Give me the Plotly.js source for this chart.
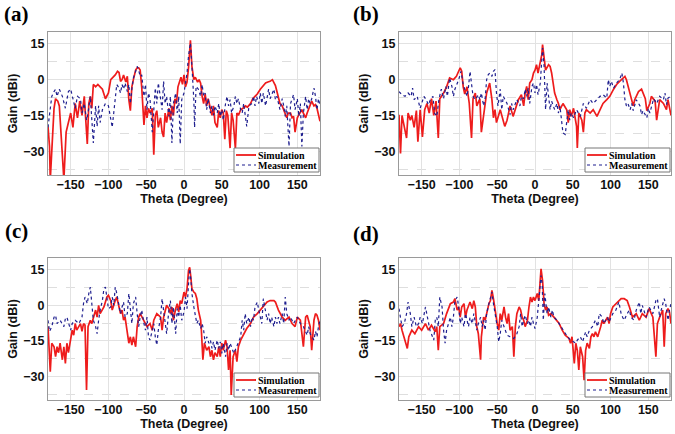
<!DOCTYPE html>
<html>
<head>
<meta charset="utf-8">
<script src="https://cdn.plot.ly/plotly-3.0.1.min.js"></script>
<style>html,body{margin:0;padding:0;background:#fff}#chart{width:675px;height:434px}</style>
</head>
<body>
<div id="chart"></div>
<script>
// ---------- data (theta in degrees, gain in dBi) ----------
const panelLabels = ['(a)', '(b)', '(c)', '(d)'];
const seriesNames = ['Simulation', 'Measurement'];
const xTickVals = [-150, -100, -50, 0, 50, 100, 150];
const yTickVals = [15, 0, -15, -30];
const xTitle = 'Theta (Degree)';
const yTitle = 'Gain (dBi)';

// (a)
const thetaSimA = [-180,-178,-177,-175,-172,-170,-167,-165,-162,-159,-156,-153,-150,-147,-144,-141,-138,-135,-132,-130,-128,-126,-124,-122,-120,-117,-114,-111,-108,-104,-100,-97,-94,-91,-88,-86,-84,-82,-80,-77,-75,-73,-71,-69,-67,-64,-62,-60,-58,-56,-53,-51,-49,-47,-45,-42,-40,-38,-36,-34,-31,-29,-27,-25,-23,-20,-18,-16,-14,-12,-10,-8,-6,-4,-2,0,2,4,6,8.5,10.5,13,15,18,20,22,24,26,28,30,32,35,37,39,41,44,46,48,50,52,54,56,58,61,63,65,68,70,72,75,78,81,84,88,91,94,97,101,104,108,111,114,117,119,121,123,127,130,132,134,136,138,141,143,145,147,150,152,156,158,161,163,165,167,169,172,174,176,178,180];
const gainSimA = [-19.6,-28,-42,-27,-12,-8,-9,-11,-25,-42,-22,-18,-14,-20,-10,-16,-9,-15,-7,-17,-27,-10,-7,-12,-2,-3,-2,-3,-4,-8,-5.6,0,1,2,3.5,3,-0.7,0,2,-1,1.4,-8.4,-13,-3,0,4,5,5,4,-3,-19,-11,-16,-12,-14,-12,-31.5,-15,-13,-20,-16,-22,-24,-14,-18,-12,-17,-11,-15,-8,-10,-3,-1,1,-2,2,-3,-1,5,16.5,5.6,0,1,-1,0,-1.5,-7,-10,-6,-11,-8,-12,-15,-11,-18,-20,-13,-16,-12.6,-14,-25,-13,-15,-28.7,-14,-17,-29,-14,-15,-12.6,-12,-11,-11.5,-10,-8,-7,-6,-4,-3,-1.4,-1,-0.7,0,-1.4,-2.5,-5,-10,-11,-13,-15,-16,-14,-14,-16,-15.4,-22,-16,-14.7,-12.6,-14,-16,-14,-12,-10,-9,-11,-10.5,-12,-14.7,-17.5];
const thetaMeasA = [-180,-178,-175,-172,-170,-168,-165,-161,-157,-155,-153,-150,-147,-144,-141,-137,-135,-132,-129,-127,-124,-122,-120,-117,-115,-113,-111,-108,-104,-100,-95,-93,-91,-89,-86,-84,-82,-80,-78,-75,-73,-71,-69,-67,-64,-62,-60,-58,-56,-53,-51,-49,-47,-45,-42,-40,-38,-36,-34,-31,-29,-27,-25,-23,-20,-18,-16,-14,-11,-9,-7,-5,-3,0,2,4,6,8.5,10.5,13,14,16,19,22,24,26,28,30,32,35,37,39,41,44,46,48,50,52,55,57,59,61,63,66,68,70,72,75,77,79,83,86,90,92,94,96,99,101,103,105,108,110,112,114,119,121,123,127,130,132,134,136,139,141,143,145,147,150,152,154,156,158,161,163,165,167,169,172,174,176,178,180];
const gainMeasA = [-20,-15,-7,-5,-4,-7,-4,-7,-12,-8.4,-5,-4,-8.4,-12,-7,-8,-14,-10,-17,-14,-7,-16,-26.6,-11,-19.6,-11,-18,-12.6,-10,-11,-20,-14,-7,-2,-3.5,-5.6,-2,-4,-1.4,-5,-2,-10,-4,0.7,3.5,5.6,4,1.4,2,-7,-2,-12.6,-5.6,-8,-22,-11,-3.5,-10,-1.4,-8,-12.6,-0.7,-10,-7,-15.4,-7,-26.6,-10,-5.6,-14,-7,-27,-8.4,-5.6,-1.4,2.8,10,15.4,5.6,-8.4,-20,-2.8,-4,-7,-2,-7,-5.6,-12.6,-8,-14,-11,-15,-11,-14,-10,-15.4,-12.6,-17,-10,-7,-11,-8.4,-14,-11,-7,-10,-8,-12.6,-14,-10,-19.6,-11,-10,-7,-11,-7,-10,-5.6,-10,-5.6,-11,-7,-4,-8,-4,-8.4,-7,-12.6,-8,-11,-15.4,-11,-28,-10,-8,-6.3,-12.6,-8,-15.4,-10,-28,-14,-7,-12.6,-8,-10,-8,-3.5,-7,-12.6,-8,-11];

// (b)
const thetaSimB = [-180,-178,-176,-173,-170,-168,-165,-163,-160,-157,-155,-152,-149,-146,-143,-140,-137,-134,-131,-128,-126,-121,-117,-113,-108,-104,-99,-97,-95,-93,-90,-87,-84,-82,-79,-77,-73,-71,-68,-66,-64,-62,-60,-57,-55,-53,-51,-46,-42,-40,-37,-33,-29,-26,-22,-18,-15,-13,-11,-9,-7,-4,-2,0,2,4,7,9,10,12,14,18,20,22,24,26,29,31,33,37,42,44,46,48,51,53,55,56,58,62,64,66,68,73,77,82,86,90,95,99,104,108,112,117,119,121,126,130,132,137,141,146,148,152,154,159,161,163,165,170,174,176,180];
const gainSimB = [-14.7,-31,-15,-20,-24.5,-14,-17,-15,-20,-13,-26,-12.6,-24,-12.6,-10,-14,-8,-15,-9,-24.5,-8,-5.6,-3,0.7,0,1.4,5,3.5,-3,-6,-3,-10,-24.5,-8,-5.6,-11,-8,-22,-14,-11,-5.6,-3.5,-1.4,-8.4,-16,-12.6,-18,-12.6,-17,-19.6,-17,-11,-15.4,-12,-8.4,-6.3,-11,-5.6,-2.8,-8.4,-1.4,0,2.8,4,6.3,2.8,7,10.5,14.7,9,4,6.3,5.6,2.8,-1.4,-5.6,-8.4,-10,-12.6,-10,-12.6,-18,-12.6,-15.4,-12,-17,-19.6,-28.7,-14,-17,-22,-14,-12.6,-14,-12.6,-15.4,-12.6,-10,-8.4,-7,-4,-2,-0.7,0.7,1.4,0,-5.6,-11,-8.4,-5,-4,-8,-13,-10,-7,-9,-17,-12.6,-8.4,-10,-12.6,-8.4,-15];
const thetaMeasB = [-180,-176,-172,-168,-164,-162,-160,-156,-152,-150,-147,-144,-141,-138,-135,-133,-130,-127,-124,-121,-118,-116,-113,-110,-108,-106,-103,-101,-98,-95,-90,-88,-86,-84,-82,-79,-75,-73,-71,-68,-66,-64,-62,-60,-57,-55,-53,-51,-49,-46,-44,-42,-37,-33,-31,-29,-24,-20,-18,-15,-13,-11,-9,-7,-4,-2,0,2,4,7,9,10,12,13,14,16,18,20,22,24,26,29,31,33,35,37,40,42,44,46,48,51,55,60,64,68,73,77,82,86,90,95,97,99,101,104,108,112,115,117,119,121,123,126,128,130,134,139,141,143,148,150,152,154,157,161,165,170,172,174,176,180];
const gainMeasB = [-5,-6.3,-7,-5.6,-7,-3.5,-8.4,-7,-12,-10,-7,-8.4,-10.5,-8,-7,-14,-15.4,-8,-4,-8,-2.8,-7,0.7,-2.8,-7,-4,-2,0,3.5,-2,-7,-3,3.5,-1.4,-7,-8.4,-6.3,-8.4,-5.6,-11,-8,0,2,2.8,1.4,3.5,4.2,-5.6,-11,-4,-12.6,-7,-10,-14.7,-10,-12.6,-8.4,-11,-7,-8,-4,-7,-3.5,-10,-2.8,-1.4,-5.6,-2,-6.3,-1.4,8.4,13.3,5.6,-7,-12.6,-1.4,-7,-12.6,-9,-11,-12.6,-10,-14,-11,-17,-22.4,-23,-17,-12.6,-17,-14,-16,-12.6,-15.4,-10,-12,-8.4,-10,-8.4,-7,-6.3,-7.7,0,-2.8,-0.7,-3.5,-1.4,0,2.8,-1.4,-8.4,-11,-10,-12.6,-10,-13,-8.4,-11,-14.7,-13,-16,-12,-14,-11,-8,-10,-7,-8.4,-5.6,-10.5,-7.7,-7];

// (c)
const thetaSimC = [-180,-179,-177,-175,-172,-170,-168,-166,-164,-161,-159,-157,-155,-153,-150,-148,-146,-144,-142,-137,-135,-133,-131,-129,-127,-124,-122,-117,-115,-113,-111,-106,-102,-100,-97,-95,-91,-89,-86,-84,-82,-80,-78,-75,-73,-71,-69,-67,-64,-62,-60,-58,-53,-49,-45,-42,-40,-36,-31,-29,-27,-25,-23,-20,-18,-16,-14,-11,-9,-7,-5,-3,0,2,4,6,7.5,9,10.5,13,15,17,19,22,23,25,27,30,33,35,37,39,41,44,46,48,50,52,55,57,59,61,62.5,65,68,70,72,75,79,83,88,92,97,101,105,110,114,119,121,125,130,134,139,143,147,150,154,158,161,163,167,169,172,174,176,178,180];
const gainSimC = [-9,-16,-28,-16,-17.5,-21.7,-17.5,-20,-16,-23,-17.5,-24.5,-16,-20,-13.3,-10.5,-12.6,-7.7,-10.5,-7.7,-11,-7.7,-8.4,-35.8,-9,-6.3,-7.7,-2,-5,0,-3.5,-0.7,3.5,4.2,2,-2,2,3.5,-0.7,-3.5,-2,-6.3,-5,-10.5,-16,-13.3,-16.8,-13.3,-17.5,-9,-5,-3.5,-6.3,-9,-7.7,-10.5,-6.3,-3.5,-5,-10.5,-5,-2,0,-1.4,-3.5,-0.7,-6.3,-1.4,0.7,-2.8,2,0.7,5.6,3.5,7,14.7,16.1,12,7,5.6,5,2.8,-2,-6.3,-10.5,-23,-16,-19,-17.5,-21.7,-19,-23,-20,-21.7,-17.5,-21.7,-16,-19,-14.7,-17.5,-27.3,-19,-37.9,-21.7,-19,-23.8,-17.5,-14.7,-12,-9.8,-7.7,-5,-3.5,-2,-0.7,1.4,2,2,1.4,-2,-5,-6.3,-5,-7.7,-9,-5,-6.3,-17.5,-5,-4.2,-9,-19,-6.3,-3.5,-4.2,-6.3,-10.5];
const thetaMeasC = [-180,-178,-175,-172,-170,-168,-164,-159,-157,-155,-150,-148,-144,-139,-135,-133,-131,-128,-126,-124,-122,-120,-117,-115,-113,-111,-108,-106,-104,-102,-100,-97,-95,-93,-91,-89,-86,-84,-82,-80,-78,-75,-73,-71,-69,-67,-64,-62,-60,-58,-56,-53,-51,-49,-47,-45,-42,-40,-38,-36,-34,-31,-29,-27,-25,-23,-20,-18,-16,-14,-11,-9,-7,-5,-3,0,2,4,6,7.5,9,10.5,13,15,17,19,22,24,26,28,30,33,35,37,39,41,44,46,48,50,52,55,57,59,61,66,70,75,77,79,81,83,86,88,90,92,94,97,99,101,103,105,108,110,112,114,116,119,121,123,125,127,130,132,134,136,139,141,145,150,154,158,163,165,167,172,174,176,178,180];
const gainMeasC = [-6.3,-11,-9,-5,-4.2,-7.7,-6.3,-9,-5.6,-5,-10.5,-7.7,-6.3,-7.7,-5,0.7,3.5,0.7,5,7.7,0.7,-6.3,-9,-12,-6.3,-2,2,7,7.7,3.5,-1.4,-0.7,3.5,0,7.7,5,-0.7,-3.5,-0.7,1.4,-5,-3.5,5,-0.7,-7.7,0.7,3.5,-3.5,-9,-5,-2,-7.7,-10.5,-5,-13.3,-14.7,-10.5,-7.7,-13.3,-16.8,-10.5,-5,2.8,-2,-7.7,-12,-2,2,-7.7,-0.7,-12,-1.4,-5,0,-6.3,-2.8,3.5,-1.4,9,15.4,11.2,5,-0.7,-3.5,-7.7,-6.3,-9.8,-7.7,-10.5,-16,-13.3,-16,-14.7,-18.2,-15.4,-19,-14.7,-18.2,-15.4,-20.3,-16,-21.7,-16,-19,-16,-20.3,-17.5,-13.3,-6.3,-10.5,-3.5,-7.7,-5,-9,-5,-6.3,-0.7,1.4,-2,-5,-7.7,2.8,-2,-6.3,-3.5,-7.7,-5,-9,-5,-7.7,-5,-7.7,-3.5,-7.7,3.5,-3.5,-6.3,-5,-7.7,-5,-7.7,-9,-12.6,-9,-12,-14.7,-11,-13.3,-9,-6.3];

// (d)
const thetaSimD = [-180,-178,-176,-173,-171,-169,-167,-163,-159,-154,-150,-145,-141,-137,-132,-130,-128,-126,-121,-117,-112,-108,-106,-103,-101,-99,-97,-94,-92,-90,-86,-83,-81,-79,-77,-75,-72,-71,-68,-66,-64,-61,-59,-57,-55,-52,-50,-48,-46,-44,-41,-39,-37,-35,-33,-30,-28,-26,-24,-21,-19,-17,-15,-13,-10,-8,-6,-4,-2,0,3,5,6.5,8,10,12,14,16,18,21,25,29,32,36,40,45,47,49,52,54,56,58,60,63,65,67,69,72,74,76,78,80,83,87,89,91,94,96,98,100,103,107,111,114,118,122,125,129,134,138,142,147,151,156,160,162,165,169,171,173,176,178,180];
const gainSimD = [-9,-7.7,-10.5,-13.3,-16,-18.2,-13.3,-10.5,-12,-9,-10.5,-7.7,-10.5,-8.4,-11.2,-9,-19,-9,-7.7,-3.5,0.7,1.4,2.8,-2,-0.7,-5,-0.7,0.7,-5,-2,1.4,-1.4,2,-0.7,-9,-12,-23,-13.3,-5,-6.3,-3.5,0.7,2,6.3,2.8,-5,-7.7,-10.5,-3.5,-6.3,-0.7,-5,-7.7,-3.5,-10.5,-9,-21.7,-9,-3.5,-0.7,-2,-5,-6.3,-9,-6.3,-0.7,3.5,1.4,3.5,2,5,2,9.8,15.4,10.5,0.7,-2,-0.7,-4.2,-3.5,-5,-6.3,-7.7,-10.5,-12.6,-14,-16,-13.3,-24.5,-16,-19,-27.3,-17.5,-21.7,-31.6,-19,-16,-18.2,-13.3,-12,-13.3,-11.2,-13.3,-9,-6.3,-7.7,-6.3,-5,-7.7,-3.5,-0.7,0.7,2,2.8,2.8,2,-0.7,-5,-3.5,-6.3,-3.5,-5,-1.4,-5,-21.7,-7.7,-5,-2,-17.5,-3.5,-1.4,-2.8,-7.7];
const thetaMeasD = [-180,-178,-176,-173,-170,-168,-165,-163,-160,-157,-154,-152,-149,-145,-142,-139,-134,-132,-130,-128,-126,-123,-121,-119,-117,-114,-112,-110,-108,-106,-103,-101,-99,-97,-94,-92,-90,-88,-86,-83,-81,-79,-77,-75,-72,-70,-68,-66,-64,-61,-59,-57,-55,-52,-50,-48,-46,-44,-41,-37,-33,-28,-24,-21,-19,-17,-15,-13,-10,-8,-6,-4,-2,0,3,5,6.5,8,9.5,11,13,14.5,16,18,21,23,25,29,34,38,43,47,52,54,56,60,63,65,67,69,72,76,80,83,85,89,91,96,98,103,107,111,114,116,118,122,125,127,131,134,138,140,142,147,151,156,160,162,165,167,171,173,176,178,180];
const gainMeasD = [-1.4,-5,-9,-7.7,-3.5,1.4,-3.5,-9,-5,-9,-7.7,-5,-7.7,-0.7,-5,-10.5,-14.7,-6.3,-5,-9,3.5,-0.7,-10.5,-16,-10.5,-7.7,-5,-9,-5,2,3.5,-0.7,-7.7,-5,-9,-3.5,-6.3,-9,-5,-7.7,-3.5,-6.3,-10.5,-7.7,-5,-9,-6.3,-10.5,-3.5,0.7,3.5,5.6,0.7,-5,-9,-15.4,-12,-6.3,-9,-12.6,-13.3,-14,-12,-9,-3.5,-9,-6.3,-4.2,-7.7,-6.3,-9,-5,-7.7,-9.8,-5,2,9,12.6,9,-6.3,5,0.7,-3.5,-0.7,-5,-2,-5,-6.3,-9,-11.2,-13.3,-14.7,-15.4,-16,-14.7,-13.3,-15.4,-12.6,-11.2,-13.3,-10.5,-9,-6.3,-9,-3.5,-5,-7.7,-5,-7,-3.5,-2,1.4,-3.5,-5,-6.3,-3.5,-2,-5,-6.3,-2,1.4,-3.5,0,-5,-0.7,-3.5,2,2.8,-5,-2,2.8,0.7,-6.3,-2,0.7];

const simTheta = [thetaSimA, thetaSimB, thetaSimC, thetaSimD];
const simGain = [gainSimA, gainSimB, gainSimC, gainSimD];
const measTheta = [thetaMeasA, thetaMeasB, thetaMeasC, thetaMeasD];
const measGain = [gainMeasA, gainMeasB, gainMeasC, gainMeasD];

// ---------- layout helpers (pixel geometry of the 675x434 page) ----------
const W = 675, H = 434;
const px = v => v / W;
const py = v => 1 - v / H;
// plot rectangles [left, right, top, bottom] in pixels
const rects = [[48, 320, 32, 175], [399, 671, 32, 175], [48, 320, 258, 400], [399, 671, 258, 400]];
const labelPos = [[16, 14], [366, 14], [16, 231], [366, 234]];

const RED = '#ee1c1c', BLUE = '#1f1f8f';
const tickFont = {family: 'Liberation Sans, Arial, sans-serif', size: 12.5, color: '#111', weight: 'bold'};

const traces = [];
const layout = {
  width: W, height: H,
  margin: {l: 0, r: 0, t: 0, b: 0},
  paper_bgcolor: '#fff', plot_bgcolor: '#fff',
  showlegend: false,
  shapes: [], annotations: []
};

rects.forEach((r, i) => {
  const n = i === 0 ? '' : String(i + 1);
  traces.push({
    x: simTheta[i], y: simGain[i], type: 'scatter', mode: 'lines',
    name: seriesNames[0], xaxis: 'x' + n, yaxis: 'y' + n,
    line: {color: RED, width: 1.7}, hoverinfo: 'skip'
  });
  traces.push({
    x: measTheta[i], y: measGain[i], type: 'scatter', mode: 'lines',
    name: seriesNames[1], xaxis: 'x' + n, yaxis: 'y' + n,
    line: {color: BLUE, width: 1.2, dash: 'dot'}, hoverinfo: 'skip'
  });
  layout['xaxis' + n] = {
    domain: [px(r[0]), px(r[1])], anchor: 'y' + n,
    range: [-180, 180], tickvals: xTickVals, ticks: '',
    ticklabelstandoff: -2,
    showgrid: true, gridcolor: '#e2e2e2', gridwidth: 1,
    zeroline: false, showline: true, mirror: true, linecolor: '#9a9a9a', linewidth: 1,
    tickfont: tickFont,
    title: {text: xTitle, font: tickFont, standoff: 3}
  };
  layout['yaxis' + n] = {
    domain: [py(r[3]), py(r[2])], anchor: 'x' + n,
    range: [-40, 20], tickvals: yTickVals, ticks: '',
    showgrid: true, gridcolor: '#e2e2e2', gridwidth: 1,
    minor: {tickvals: [-37.5, -22.5, -7.5, 7.5], showgrid: true, gridcolor: '#dedede', griddash: 'dash', gridwidth: 1},
    zeroline: false, showline: true, mirror: true, linecolor: '#9a9a9a', linewidth: 1,
    tickfont: tickFont,
    title: {text: yTitle, font: tickFont, standoff: 2}
  };
  // panel label
  layout.annotations.push({
    xref: 'paper', yref: 'paper', x: px(labelPos[i][0]), y: py(labelPos[i][1]),
    xanchor: 'center', yanchor: 'middle', showarrow: false,
    text: panelLabels[i],
    font: {family: 'Liberation Serif, Times New Roman, serif', size: 21, color: '#000', weight: 'bold'}
  });
  // legend box (lower right of each panel)
  const bx0 = r[1] - 86, bx1 = r[1] - 1, by0 = r[3] - 27, by1 = r[3] - 3;
  layout.shapes.push({type: 'rect', xref: 'paper', yref: 'paper',
    x0: px(bx0), x1: px(bx1), y0: py(by1), y1: py(by0),
    line: {color: '#777', width: 1}, fillcolor: '#fff'});
  const rows = [by0 + 7, by0 + 17];
  [[RED, 1.8, 'solid'], [BLUE, 1.2, 'dot']].forEach((st, k) => {
    layout.shapes.push({type: 'line', xref: 'paper', yref: 'paper',
      x0: px(bx0 + 2), x1: px(bx0 + 22), y0: py(rows[k]), y1: py(rows[k]),
      line: {color: st[0], width: st[1], dash: st[2]}});
    layout.annotations.push({xref: 'paper', yref: 'paper',
      x: px(bx0 + 22), y: py(rows[k]), xanchor: 'left', yanchor: 'middle', showarrow: false,
      text: seriesNames[k],
      font: {family: 'Liberation Serif, Times New Roman, serif', size: 10, color: '#000', weight: 'bold'}});
  });
});

Plotly.newPlot('chart', traces, layout, {staticPlot: true, displayModeBar: false});
</script>
</body>
</html>
